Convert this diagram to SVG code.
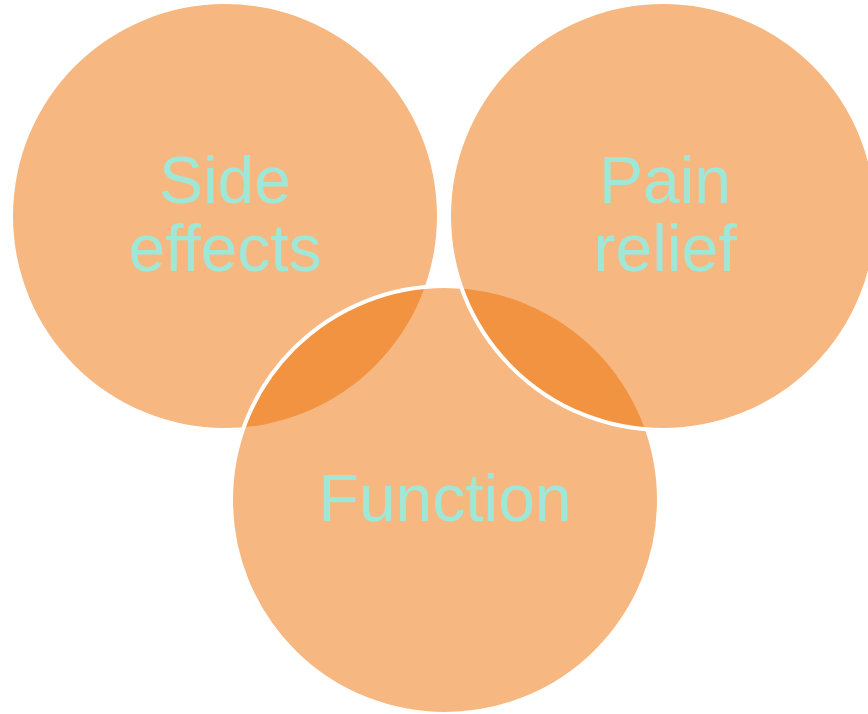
<svg xmlns="http://www.w3.org/2000/svg" width="868" height="714" viewBox="0 0 868 714">
  <style>
    .fill { fill: #F7B781; }
    .lens { fill: #F29341; }
    .edge { fill: none; stroke: #FFFFFF; stroke-width: 4; }
    .label { font-family: "Liberation Sans", Arial, sans-serif; font-size: 66px; fill: #9FE8D8; text-anchor: middle; }
  </style>
  <defs>
    <clipPath id="clipLeft"><circle cx="225" cy="216" r="212"/></clipPath>
    <clipPath id="clipRight"><circle cx="663" cy="216" r="214"/></clipPath>
  </defs>
  <rect width="868" height="714" fill="#FFFFFF"/>
  <g id="side-effects">
    <circle class="fill" cx="225" cy="216" r="212"/>
    <text class="label" x="225" y="203">Side</text>
    <text class="label" x="225" y="271">effects</text>
  </g>
  <g id="function">
    <circle class="fill" cx="445" cy="500" r="214"/>
    <circle class="lens" cx="445" cy="500" r="214" clip-path="url(#clipLeft)"/>
    <circle class="edge" cx="445" cy="500" r="214"/>
    <text class="label" x="445" y="521">Function</text>
  </g>
  <g id="pain-relief">
    <circle class="fill" cx="663" cy="216" r="214"/>
    <circle class="lens" cx="445" cy="500" r="212" clip-path="url(#clipRight)"/>
    <circle class="edge" cx="663" cy="216" r="214"/>
    <text class="label" x="665" y="203">Pain</text>
    <text class="label" x="665" y="271">relief</text>
  </g>
  <g id="connectors"/>
</svg>
